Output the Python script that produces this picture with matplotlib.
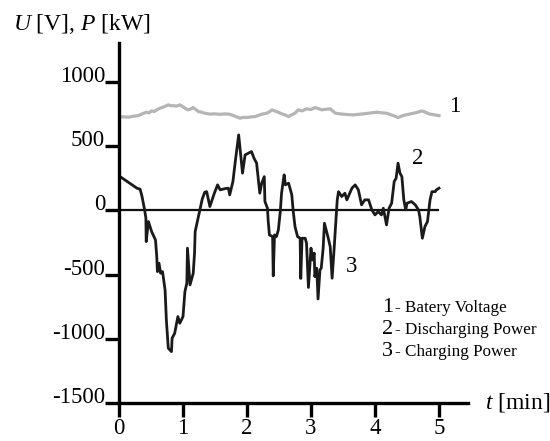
import numpy as np
import matplotlib.pyplot as plt

plt.rcParams['font.family'] = ['Liberation Serif', 'DejaVu Serif']
plt.rcParams['mathtext.fontset'] = 'custom'
plt.rcParams['mathtext.rm'] = 'Liberation Serif'
plt.rcParams['mathtext.it'] = 'Liberation Serif:italic'

# time [min] and battery voltage [V]
t_volt = [0, 0.08, 0.15, 0.22, 0.30, 0.36, 0.43, 0.47, 0.51, 0.55, 0.59, 0.64, 0.70, 0.77,
          0.81, 0.85, 0.90, 0.95, 0.99, 1.03, 1.08, 1.12, 1.16, 1.20, 1.24, 1.29, 1.34,
          1.42, 1.50, 1.58, 1.65, 1.73, 1.80, 1.89, 1.94, 1.99, 2.06, 2.13, 2.18, 2.23,
          2.31, 2.35, 2.39, 2.46, 2.52, 2.59, 2.65, 2.70, 2.75, 2.80, 2.86, 2.93, 3.00,
          3.06, 3.12, 3.17, 3.24, 3.30, 3.38, 3.45, 3.51, 3.58, 3.66, 3.74, 3.82, 3.92,
          4.03, 4.10, 4.18, 4.24, 4.29, 4.36, 4.42, 4.48, 4.54, 4.60, 4.67, 4.73, 4.79,
          4.84, 4.92, 5.0]
volt = [731, 728, 726, 733, 738, 752, 765, 760, 775, 770, 783, 796, 806, 822,
        815, 816, 812, 822, 810, 796, 783, 790, 801, 785, 770, 765, 757,
        750, 752, 748, 752, 749, 736, 718, 725, 723, 728, 731, 740, 749,
        757, 768, 783, 770, 757, 744, 731, 745, 757, 783, 775, 791, 786,
        801, 792, 783, 788, 791, 757, 752, 749, 746, 744, 748, 752, 758,
        765, 760, 757, 746, 738, 723, 735, 744, 750, 757, 765, 775, 765,
        752, 745, 738]

# time [min] and battery power [kW]
t_power = [0, 0.28, 0.33, 0.36, 0.40, 0.42, 0.425, 0.46, 0.51, 0.57, 0.59, 0.60, 0.625,
           0.65, 0.68, 0.72, 0.74, 0.77, 0.82, 0.83, 0.87, 0.92, 0.95, 1.00, 1.03, 1.06,
           1.07, 1.11, 1.16, 1.18, 1.19, 1.23, 1.27, 1.30, 1.34, 1.37, 1.42, 1.49, 1.54,
           1.58, 1.66, 1.71, 1.73, 1.78, 1.82, 1.87, 1.91, 1.93, 1.97, 2.07, 2.11, 2.15,
           2.20, 2.23, 2.27, 2.28, 2.32, 2.33, 2.35, 2.40, 2.41, 2.43, 2.46, 2.49, 2.52,
           2.54, 2.58, 2.60, 2.65, 2.70, 2.72, 2.75, 2.79, 2.83, 2.84, 2.86, 2.91, 2.93,
           2.96, 3.00, 3.02, 3.05, 3.06, 3.09, 3.11, 3.14, 3.16, 3.19, 3.21, 3.27, 3.30,
           3.33, 3.36, 3.39, 3.41, 3.43, 3.48, 3.53, 3.56, 3.64, 3.69, 3.74, 3.79, 3.84,
           3.90, 3.95, 4.00, 4.05, 4.10, 4.13, 4.18, 4.22, 4.26, 4.30, 4.33, 4.36, 4.39,
           4.42, 4.45, 4.48, 4.50, 4.57, 4.63, 4.68, 4.70, 4.74, 4.78, 4.82, 4.86, 4.89,
           4.94, 4.96, 5.0]
power = [269, 173, 165, 108, 4, -58, -243, -87, -165, -230, -360, -477, -411,
         -489, -477, -619, -853, -1073, -1100, -995, -957, -827, -879, -827, -632, -567,
         -294, -580, -489, -333, -165, -74, 17, 87, 142, 146, 30, 134, 199,
         160, 170, 173, 121, 225, 393, 588, 393, 290, 432, 458, 406, 368,
         134, 212, 263, 69, 17, -74, -191, -204, -510, -191, -204, -152, -9,
         134, 277, 199, 212, 121, 4, -126, -204, -217, -530, -217, -217, -256,
         -600, -294, -386, -333, -516, -450, -690, -463, -450, -294, -100, -217, -282,
         -528, -308, -74, 82, 146, 108, 134, 82, 173, 199, 160, 43, 82,
         82, 4, -35, -9, -35, 17, -113, 17, 56, 225, 251, 368, 290,
         263, 82, 4, 56, 69, 43, 4, -48, -217, -126, -87, 82, 146,
         146, 160, 173]

x_ticks = [0, 1, 2, 3, 4, 5]
y_ticks = [1000, 500, 0, -500, -1000, -1500]
legend_nums = ['1', '2', '3']
legend_names = ['Batery Voltage', 'Discharging Power', 'Charging Power']

W, H = 550, 441
fig = plt.figure(figsize=(W / 100, H / 100), dpi=100)
ax = fig.add_axes([119 / W, (H - 403) / H, (468 - 119) / W, (403 - 43) / H])

ax.plot(t_volt, volt, color='#b5b5b5', lw=2.3, solid_joinstyle='round')
ax.hlines(0, t_power[0], t_power[-1], color='#111111', lw=1.6)
ax.plot(t_power, power, color='#1a1a1a', lw=2.0, solid_joinstyle='round')

ax.set_xlim(0, (468 - 119) / 64)
ax.set_ylim(-1500, 1000 + 39 / 0.1284)
for s in ['top', 'right']:
    ax.spines[s].set_visible(False)
for s in ['left', 'bottom']:
    ax.spines[s].set_linewidth(2.4)
    ax.spines[s].set_color('black')

ax.set_xticks(x_ticks)
ax.set_xticklabels([str(v) for v in x_ticks], fontsize=16.5)
ax.set_yticks(y_ticks)
ax.set_yticklabels([str(v) for v in y_ticks], fontsize=16.5)
ax.tick_params(direction='out', length=10, width=2.4, color='black')
ax.tick_params(axis='x', pad=1)
ax.tick_params(axis='y', pad=0)
for lab in ax.get_yticklabels():
    lab.set_va('baseline')

fig.text(13 / W, 1 - 30 / H, r'$U$ [V], $P$ [kW]', fontsize=17, va='baseline')
fig.text(485 / W, 1 - 409 / H, r'$t$ [min]', fontsize=17, va='baseline')

# curve numbers
fig.text(455 / W, 1 - 107 / H, '1', fontsize=16.5, ha='center', va='center')
fig.text(418 / W, 1 - 158 / H, '2', fontsize=16.5, ha='center', va='center')
fig.text(352 / W, 1 - 267 / H, '3', fontsize=16.5, ha='center', va='center')

for i, (num, name) in enumerate(zip(legend_nums, legend_names)):
    yb = 1 - (312.5 + 21.8 * i) / H
    fig.text(382 / W, yb, num, fontsize=16, va='baseline')
    fig.text(395 / W, yb, '- ' + name, fontsize=12.3, va='baseline')

fig.savefig('out.png', dpi=100)
